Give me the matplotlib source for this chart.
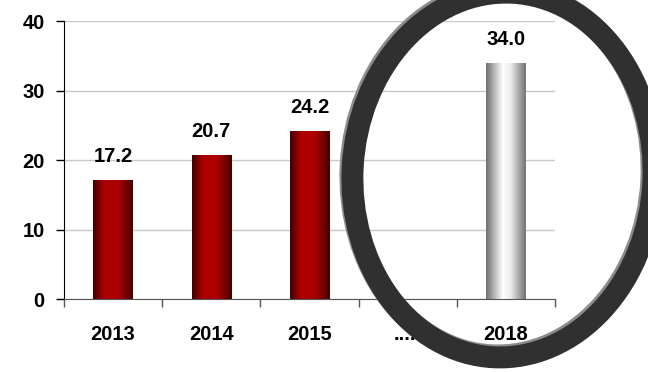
import numpy as np
import matplotlib as mpl
import matplotlib.pyplot as plt
from matplotlib.patches import Ellipse
from matplotlib.colors import LinearSegmentedColormap

mpl.rcParams['font.family'] = ['Liberation Sans', 'DejaVu Sans']
mpl.rcParams['font.weight'] = 'bold'

years = ['2013', '2014', '2015', '.....', '2018']
values = [17.2, 20.7, 24.2, np.nan, 34.0]
labels = ['17.2', '20.7', '24.2', '', '34.0']

fig = plt.figure(figsize=(6.48, 3.72), dpi=100)
ax = fig.add_axes([0.0988, 0.196, 0.7577, 0.7473])

xs = np.arange(len(years))
bars = ax.bar(xs, np.nan_to_num(values), width=0.4, color='none', edgecolor='none', zorder=2)

# horizontal shading for the bars
redMap = LinearSegmentedColormap.from_list('red3d', [(0.0, '#3e0000'), (0.28, '#ae0000'),
                                                      (0.62, '#ac0000'), (1.0, '#480000')])
silverMap = LinearSegmentedColormap.from_list('silver3d', [(0.0, '#6e6e6e'), (0.42, '#ffffff'),
                                                            (0.62, '#ececec'), (1.0, '#727272')])
grad = np.linspace(0, 1, 256).reshape(1, -1)

for i, b in enumerate(bars):
    h = b.get_height()
    if h <= 0:
        continue
    cmap = silverMap if years[i] == '2018' else redMap
    x0 = b.get_x()
    im = ax.imshow(grad, cmap=cmap, extent=[x0, x0 + b.get_width(), 0, h],
                   aspect='auto', zorder=2, interpolation='bilinear')
    im.set_clip_path(b)
    ax.annotate(labels[i], xy=(xs[i], h), xytext=(0, 10), textcoords='offset points',
                ha='center', va='bottom', fontsize=14.5, fontweight='bold')

ax.set_xlim(-0.5, len(years) - 0.5)
ax.set_ylim(0, 40)
ax.set_yticks([0, 10, 20, 30, 40])
ax.yaxis.grid(True, color='#c8c8c8', lw=1)
ax.set_axisbelow(True)

ax.set_xticks(xs)
ax.set_xticklabels(years)
ax.set_xticks(np.arange(-0.5, len(years)), minor=True)
ax.tick_params(axis='x', which='major', length=0, pad=19, labelsize=14.5)
ax.tick_params(axis='x', which='minor', length=6, width=1, color='#555555', direction='out')
ax.tick_params(axis='y', length=6, width=1, pad=8, labelsize=14.5, direction='out')

for s in ('top', 'right'):
    ax.spines[s].set_visible(False)
ax.spines['left'].set_color('black')
ax.spines['bottom'].set_color('#555555')

# ring around the 2018 bar, drawn in pixel coordinates over everything
ringGray = Ellipse((501, 199), 301, 365, angle=-3, fill=False, lw=15.8,
                   edgecolor='#8c8c8c', transform=None, zorder=5)
ringDark = Ellipse((503, 197), 301, 365, angle=-3, fill=False, lw=15.8,
                   edgecolor='#303030', transform=None, zorder=6)
fig.add_artist(ringGray)
fig.add_artist(ringDark)

fig.savefig('out.png', dpi=100)
